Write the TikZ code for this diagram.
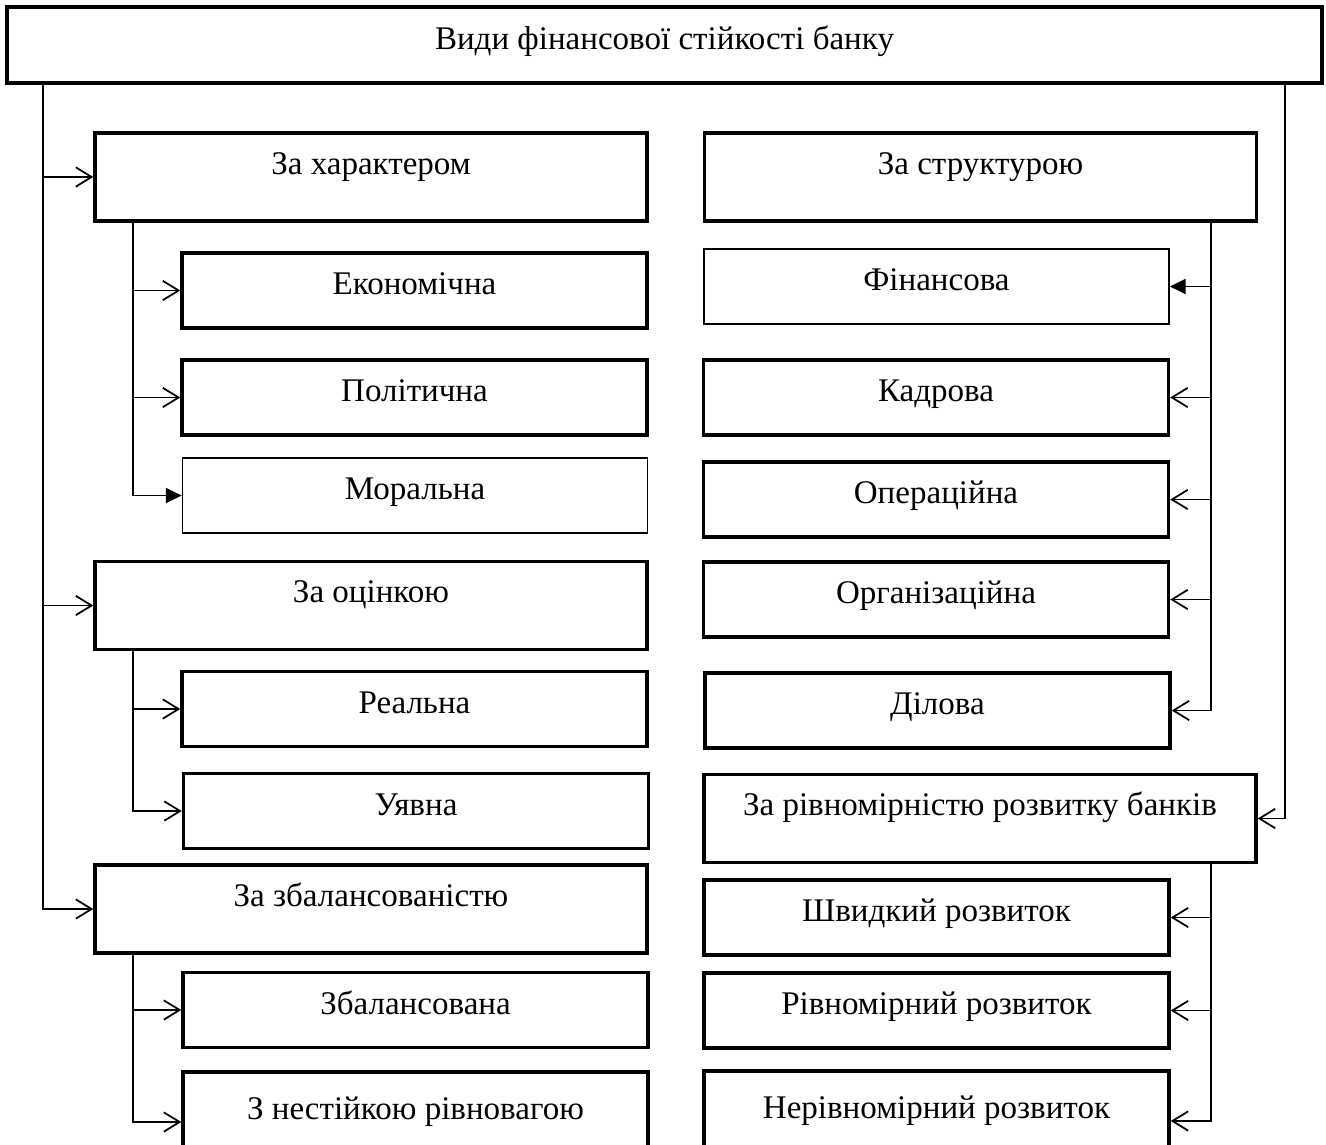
\documentclass[tikz,border=0pt]{standalone}
\usepackage{fontspec}
\setmainfont{Liberation Serif}
\usetikzlibrary{arrows.meta}

\tikzset{
  box/.style={draw, line width=2pt, minimum width=9.3cm, minimum height=1.5cm,
    inner sep=0pt, text height=13.2pt, text depth=8.3pt,
    font=\fontsize{18.8}{22}\selectfont},
  bigbox/.style={box, minimum width=11.04cm, minimum height=1.76cm, text depth=16.5pt},
  cutbox/.style={box, minimum height=2cm, text depth=16.5pt},
  thinbox/.style={box, line width=1pt},
  arr/.style={line width=1pt, -{Straight Barb[length=9pt,width=11pt]}},
  farr/.style={line width=1pt, -{Triangle[length=9pt,width=8.5pt]}},
}

\begin{document}
\begin{tikzpicture}[x=0.02cm, y=-0.02cm]
    \useasboundingbox (0,0) rectangle (1326,1144);
    \clip (0,0) rectangle (1326,1144);

    % trunks
    \coordinate (lt) at (43,0);
    \coordinate (ls) at (133,0);
    \coordinate (rs) at (1211,0);
    \coordinate (rt) at (1285,0);

    \node (top) [box, minimum width=26.3cm, minimum height=1.52cm] at (664.5,45)
        {Види фінансової стійкості банку};

    % left column
    \node (char) [bigbox] at (371,177) {За характером};
    \node (econ) [box] at (414.5,290.5) {Економічна};
    \node (polit) [box] at (414.5,397.5) {Політична};
    \node (moral) [thinbox] at (415,495.5) {Моральна};
    \node (ocin) [bigbox] at (371,605.5) {За оцінкою};
    \node (real) [box] at (414.5,709) {Реальна};
    \node (uyav) [box] at (416,811) {Уявна};
    \node (balans) [bigbox] at (371,909) {За збалансованістю};
    \node (zbal) [box] at (415.5,1010) {Збалансована};
    \node (nestiy) [cutbox] at (415.5,1122) {З нестійкою рівновагою};

    % right column
    \node (struct) [bigbox] at (980.5,177) {За структурою};
    \node (fin) [thinbox] at (936.5,286.5) {Фінансова};
    \node (kadr) [box] at (936,397.5) {Кадрова};
    \node (oper) [box] at (936,499.5) {Операційна};
    \node (org) [box] at (936,599.5) {Організаційна};
    \node (dil) [box] at (937.5,710.5) {Ділова};
    \node (rivn) [bigbox] at (980,818.5) {За рівномірністю розвитку банків};
    \node (shv) [box] at (936.5,917.5) {Швидкий розвиток};
    \node (rivnr) [box] at (936.5,1010.5) {Рівномірний розвиток};
    \node (nerivn) [cutbox] at (936.5,1121) {Нерівномірний розвиток};

    % left connectors
    \draw[arr] (top.south -| lt) |- (balans.west);
    \draw[arr] (char.west -| lt) -- (char.west);
    \draw[arr] (ocin.west -| lt) -- (ocin.west);

    \draw[farr] (char.south -| ls) |- (moral.west);
    \draw[arr] (econ.west -| ls) -- (econ.west);
    \draw[arr] (polit.west -| ls) -- (polit.west);

    \draw[arr] (ocin.south -| ls) |- (uyav.west);
    \draw[arr] (real.west -| ls) -- (real.west);

    \draw[arr] (balans.south -| ls) |- (nestiy.west);
    \draw[arr] (zbal.west -| ls) -- (zbal.west);

    % right connectors
    \draw[arr] (top.south -| rt) |- (rivn.east);

    \draw[arr] (struct.south -| rs) |- (dil.east);
    \draw[farr] (fin.east -| rs) -- (fin.east);
    \draw[arr] (kadr.east -| rs) -- (kadr.east);
    \draw[arr] (oper.east -| rs) -- (oper.east);
    \draw[arr] (org.east -| rs) -- (org.east);

    \draw[arr] (rivn.south -| rs) |- (nerivn.east);
    \draw[arr] (shv.east -| rs) -- (shv.east);
    \draw[arr] (rivnr.east -| rs) -- (rivnr.east);
\end{tikzpicture}
\end{document}
